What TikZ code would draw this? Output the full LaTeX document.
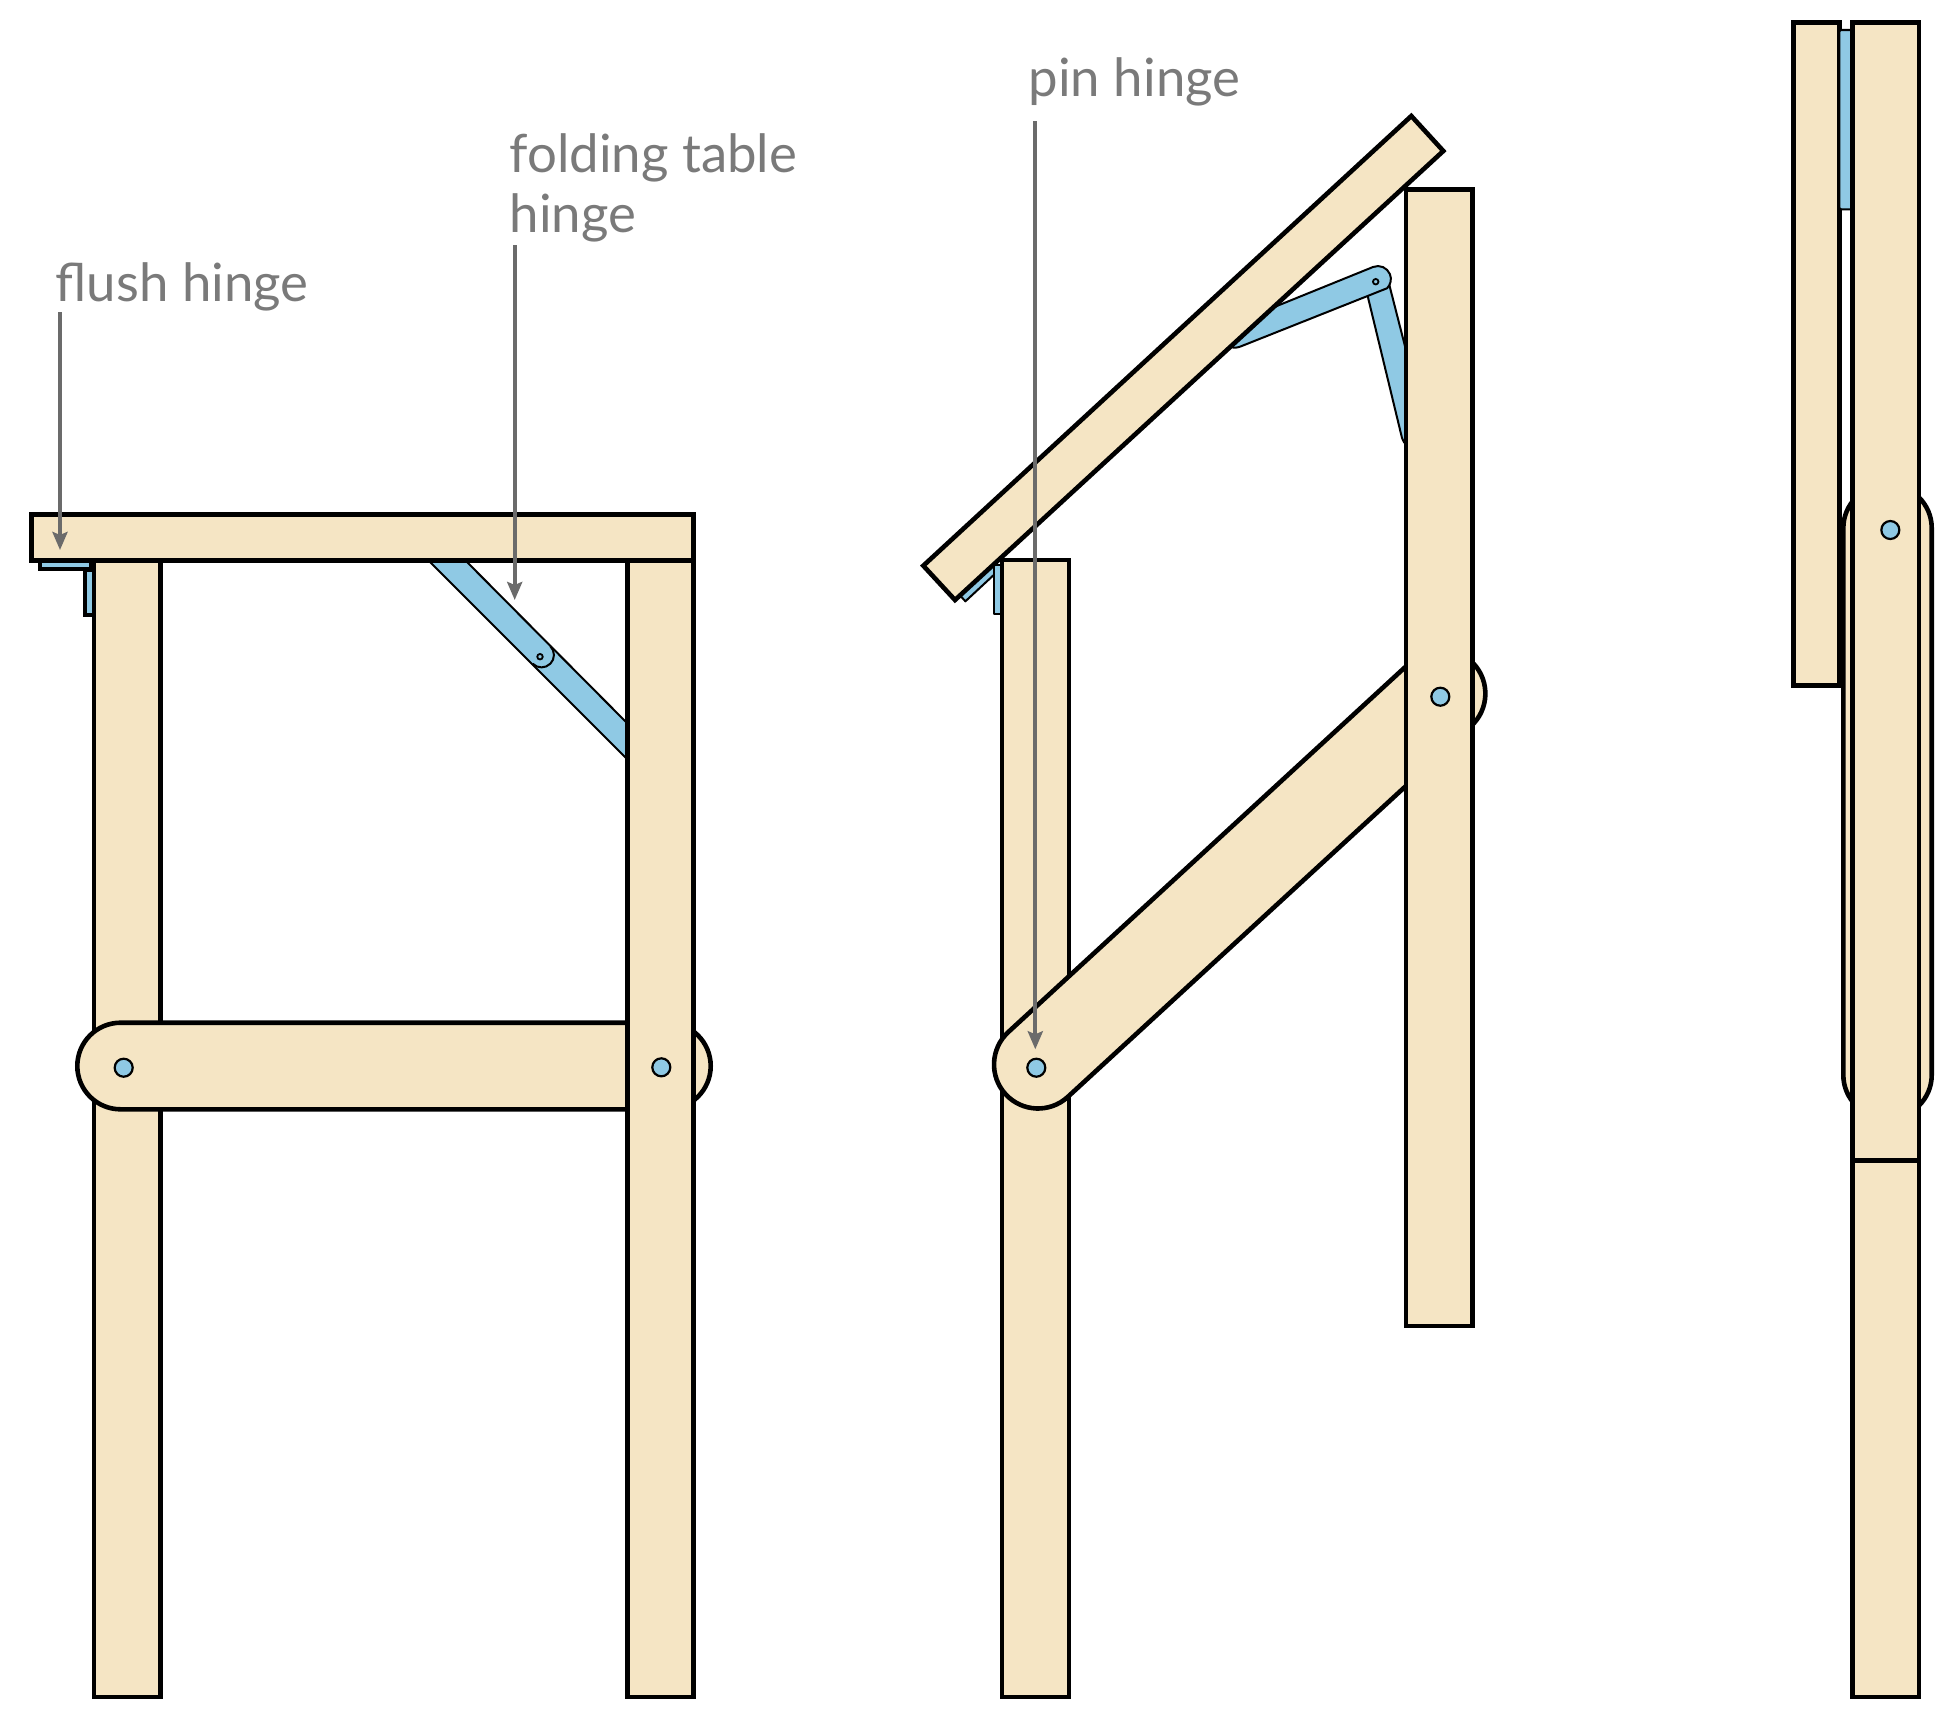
\documentclass[tikz,border=0pt]{standalone}
\usepackage{fontspec}
\setmainfont{Lato}
\usetikzlibrary{arrows.meta, positioning}
\definecolor{woodtone}{HTML}{F5E5C4}
\definecolor{hingeblue}{HTML}{8FC9E4}
\definecolor{notegrey}{HTML}{6B6B6B}
\tikzset{
  woodpart/.style={draw=black, fill=woodtone, line width=.046cm, line join=miter},
  hingepart/.style={draw=black, fill=hingeblue, line width=.02cm, line join=round},
  flushpart/.style={draw=black, fill=hingeblue, line width=.04cm},
  pinhole/.style={circle, draw=black, fill=hingeblue, line width=.022cm, inner sep=0pt, minimum size=.18cm},
  smallpin/.style={circle, draw=black, fill=hingeblue, line width=.018cm, inner sep=0pt, minimum size=.055cm},
  pointer/.style={draw=notegrey, line width=.04cm, -{Stealth[length=.18cm, width=.15cm, inset=.03cm]}},
  caption/.style={anchor=base west, inner sep=0pt, text=notegrey!90, font=\fontsize{15}{15}\selectfont}
}
\begin{document}
\begin{tikzpicture}[x=.01cm, y=-.01cm]
\useasboundingbox (0,0) rectangle (1958,1733);
\begin{scope}
% flush hinge
\draw[flushpart] (39.7,560)--(91,560)--(91,568.7)--(39.7,568.7)--cycle;
\draw[flushpart] (85.3,570)--(94,570)--(94,614.7)--(85.3,614.7)--cycle;
% folding table hinge
\draw[hingepart] (426,558)--(627,759)--(627,723)--(463,558)--cycle;
\draw[hingepart] (550.3,646.2) arc[start angle=-45, end angle=135, radius=12.4];
\node[smallpin] (pintable) at (540,656.7) {};
\draw[woodpart] (94,560) rectangle (160.3,1697);
\draw[woodpart, rounded corners=.433cm] (77.3,1022.7) rectangle (710.7,1109.3);
\draw[woodpart] (627.7,560) rectangle (693.7,1697);
\draw[woodpart] (31.5,514.5) rectangle (693.7,560.5);
\node[pinhole] (pinfront) at (123.7,1067.7) {};
\node[pinhole] (pinback) at (661.3,1067.3) {};
\end{scope}

\begin{scope}
% flush hinge, half open
\draw[hingepart] (960,595.4)--(965.4,601.3)--(998,571)--(992.6,565)--cycle;
\draw[hingepart] (993.7,565)--(1002,565)--(1002,614.3)--(993.7,614.3)--cycle;
% folding table hinge, half open
\draw[hingepart] (1365,285)--(1402,438) .. controls (1403,441) and (1404,443) .. (1408,446)--(1408,358)--(1386,272)--cycle;
\coordinate (armtop) at (1373,267);
\draw[hingepart] (armtop) arc[start angle=-112, end angle=45, radius=13]
  --(1240,346.7) .. controls (1236,348) and (1233,348) .. (1230,347)--(1262,312)--cycle;
\node[smallpin] (pinopen) at (1375.7,281.7) {};
\draw[woodpart] (1002,560) rectangle (1069,1697);
\begin{scope}[shift={(1038,1064.5)}, rotate=42.6]
\draw[woodpart, rounded corners=.44cm] (-44,-44) rectangle (592,44);
\end{scope}
\draw[woodpart] (1406,189.3) rectangle (1472.7,1326);
\draw[woodpart] (923.3,565.7)--(955,600)--(1443.3,151)--(1411.3,116)--cycle;
\node[pinhole] (pinlow) at (1036.3,1067.7) {};
\node[pinhole] (pinhigh) at (1440.3,696.7) {};
\end{scope}

\begin{scope}
\draw[woodpart, rounded corners=.43cm] (1843.3,485) rectangle (1931.7,1118);
\draw[woodpart] (1793.3,22.3) rectangle (1839.3,685.7);
\draw[hingepart, rounded corners=.02cm] (1839.3,30) rectangle (1852.3,209.3);
\draw[woodpart] (1852.3,22.3) rectangle (1919,1160.3);
\draw[woodpart] (1852.3,1160.3) rectangle (1919,1697);
\node[pinhole] (pinfolded) at (1890.3,530) {};
\end{scope}

\node[caption] (flushnote) at (55,301) {flush hinge};
\node[caption] (tablenote) at (509,172) {folding table};
\node[caption] (tablenotetwo) at (509,232) {hinge};
\node[caption] (pinnote) at (1028,97) {pin hinge};
\coordinate (flushtail) at (60,312);
\coordinate (flushtip) at (60,550);
\coordinate (tabletail) at (514.7,245);
\coordinate (tabletip) at (514.7,600);
\coordinate (pintail) at (1035.3,121);
\coordinate (pintip) at (1035.3,1049.3);
\draw[pointer] (flushtail)--(flushtip);
\draw[pointer] (tabletail)--(tabletip);
\draw[pointer] (pintail)--(pintip);
\end{tikzpicture}
\end{document}
